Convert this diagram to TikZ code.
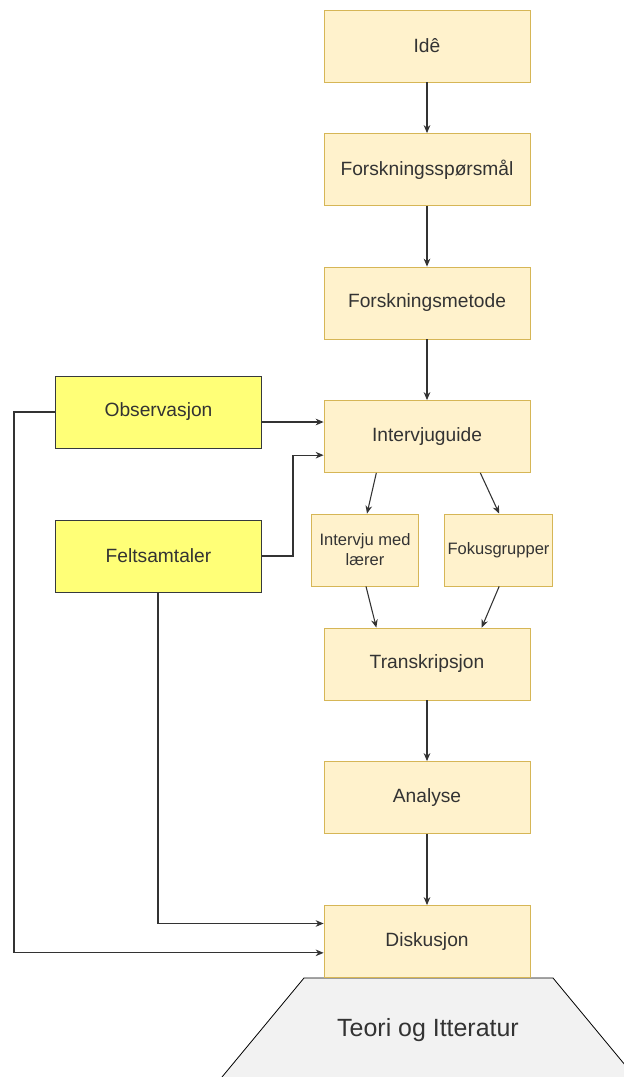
\documentclass[tikz,border=0pt]{standalone}
\usepackage{fontspec}
\setmainfont{Liberation Sans}
\usepackage{tikz}
\usetikzlibrary{positioning}
\usetikzlibrary{arrows.meta}
\definecolor{boxfill}{HTML}{FFF2CC}
\definecolor{boxline}{HTML}{D6B656}
\definecolor{notefill}{HTML}{FFFF77}
\definecolor{noteline}{HTML}{36393D}
\definecolor{basefill}{HTML}{F2F2F2}
\definecolor{baseline}{HTML}{666666}
\definecolor{txt}{HTML}{333333}
\tikzset{box/.style={draw=boxline, fill=boxfill, line width=0.6pt, minimum width=154.5pt, minimum height=54pt, inner sep=0pt, text=txt, font=\fontsize{14.4}{17}\selectfont}}
\tikzset{smallbox/.style={box, minimum width=80.5pt, align=center, font=\fontsize{12.4}{15}\selectfont}}
\tikzset{note/.style={box, draw=noteline, fill=notefill}}
\tikzset{arr/.style={draw=txt, line width=0.8pt, -{Stealth[length=6pt,width=5pt]}}}

\begin{document}
\begin{tikzpicture}[x=0.75pt,y=-0.75pt]
\useasboundingbox (0,0) rectangle (624,1077);
% base
\begin{scope}
\clip (0,0) rectangle (624,1077);
\fill[basefill] (222,1077) -- (304,978) -- (553,978) -- (635,1077) -- cycle;
\draw[baseline, line width=0.6pt] (222,1077) -- (304,978) -- (553,978) -- (635,1077);
\end{scope}
\node[text=txt, font=\fontsize{18.7}{22}\selectfont] (teori) at (428,1030) {Teori og Itteratur};
% main column
\node[box] (ide) at (427,46) {Idê};
\node[box] (fsp) at (427,169.5) {Forskningsspørsmål};
\node[box] (fme) at (427,303) {Forskningsmetode};
\node[box] (igd) at (427,436.5) {Intervjuguide};
\node[smallbox] (iml) at (365,550) {Intervju med\\lærer};
\node[smallbox] (fok) at (498.5,550) {Fokusgrupper};
\node[box] (tra) at (427,664) {Transkripsjon};
\node[box] (ana) at (427,797.5) {Analyse};
\node[box] (dis) at (427,941.5) {Diskusjon};
% field work
\node[note] (obs) at (158.5,412) {Observasjon};
\node[note] (fel) at (158.5,556) {Feltsamtaler};
\coordinate (obsdown) at (14,412);
\coordinate (felup) at (293,556);

\draw[arr] (ide) -- (fsp);
\draw[arr] (fsp) -- (fme);
\draw[arr] (fme) -- (igd);
\draw[arr] ([xshift=-38pt]igd.south) -- ([xshift=1.5pt]iml.north);
\draw[arr] ([xshift=40pt]igd.south) -- ([xshift=0.5pt]fok.north);
\draw[arr] ([xshift=0.75pt]iml.south) -- ([xshift=-38pt]tra.north);
\draw[arr] ([xshift=0.5pt]fok.south) -- ([xshift=41pt]tra.north);
\draw[arr] (tra) -- (ana);
\draw[arr] (ana) -- (dis);
\draw[arr] ([yshift=-7.5pt]obs.east) -- ([yshift=-7.5pt]obs.east -| igd.west);
\draw[arr] (fel.east) -- (felup) |- ([yshift=-14pt]igd.west);
\draw[arr] ([xshift=-0.375pt]fel.south) |- ([yshift=13.5pt]dis.west);
\draw[arr] (obs.west) -- (obsdown) |- ([yshift=-8.5pt]dis.west);
\end{tikzpicture}
\end{document}
